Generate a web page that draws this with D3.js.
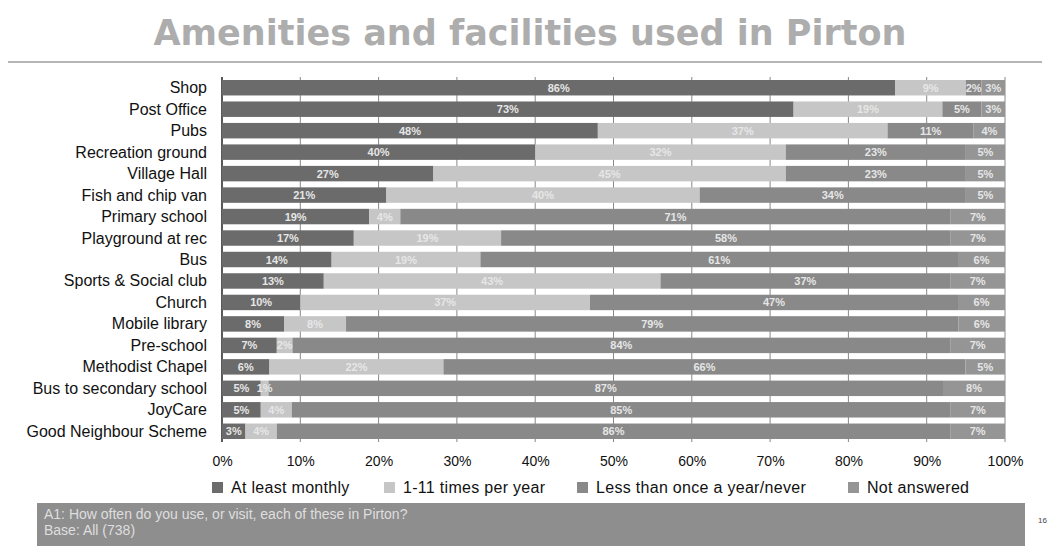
<!DOCTYPE html>
<html><head><meta charset="utf-8">
<script src="https://cdn.jsdelivr.net/npm/d3@7/dist/d3.min.js"></script>
<style>body{margin:0;background:#fff;}svg{display:block;}</style>
</head><body>
<svg id="chart" width="1055" height="550"></svg>
<script>
const categories = ["Shop","Post Office","Pubs","Recreation ground","Village Hall","Fish and chip van","Primary school","Playground at rec","Bus","Sports & Social club","Church","Mobile library","Pre-school","Methodist Chapel","Bus to secondary school","JoyCare","Good Neighbour Scheme"];
const seriesNames = ["At least monthly","1-11 times per year","Less than once a year/never","Not answered"];
const atLeastMonthly = [86,73,48,40,27,21,19,17,14,13,10,8,7,6,5,5,3];
const times1to11     = [9,19,37,32,45,40,4,19,19,43,37,8,2,22,1,4,4];
const lessThanOnce   = [2,5,11,23,23,34,71,58,61,37,47,79,84,66,87,85,86];
const notAnswered    = [3,3,4,5,5,5,7,7,6,7,6,6,7,5,8,7,7];
const xTicks = [0,10,20,30,40,50,60,70,80,90,100];
const colors = ["#6b6b6b","#c6c6c6","#898989","#959595"];

const svg = d3.select("#chart");
const margin = {left:222, right:50, top:77, bottom:108};
const W = 1055, H = 550;
const FONT = "Liberation Sans, Arial, sans-serif";
const x = d3.scaleLinear().domain([0,100]).range([margin.left, W - margin.right]);
const y = d3.scaleBand().domain(categories).range([margin.top, H - margin.bottom]).paddingInner(0.28).paddingOuter(0.14);

// title
svg.append("text").attr("x", 530).attr("y", 45).attr("text-anchor","middle")
  .attr("font-family","DejaVu Sans, Verdana, sans-serif").attr("font-weight","bold")
  .attr("font-size", 35).attr("fill","#adadad").text("Amenities and facilities used in Pirton");
svg.append("line").attr("x1",8).attr("x2",1042).attr("y1",62).attr("y2",62)
  .attr("stroke","#b5b5b5").attr("stroke-width",2);

// gridlines
svg.append("g").selectAll("line").data(xTicks).join("line")
  .attr("x1", d=>x(d)).attr("x2", d=>x(d))
  .attr("y1", margin.top).attr("y2", H - margin.bottom)
  .attr("stroke", d=> d===0 ? "#222" : "#888").attr("stroke-width", d=> d===0 ? 1.5 : 1);

// data
const rows = categories.map((c,i)=>({cat:c, vals:[atLeastMonthly[i],times1to11[i],lessThanOnce[i],notAnswered[i]]}));
const segs = [];
rows.forEach(r=>{
  const total = d3.sum(r.vals);
  let acc = 0;
  r.vals.forEach((v,k)=>{
    const x0 = acc/total*100; acc += v; const x1 = acc/total*100;
    segs.push({cat:r.cat, k, v, x0, x1});
  });
});

svg.append("g").selectAll("rect").data(segs).join("rect")
  .attr("x", d=>x(d.x0)).attr("width", d=>x(d.x1)-x(d.x0))
  .attr("y", d=>y(d.cat)).attr("height", y.bandwidth())
  .attr("fill", d=>colors[d.k]);

svg.append("g").selectAll("text").data(segs).join("text")
  .attr("x", d=>(x(d.x0)+x(d.x1))/2).attr("y", d=>y(d.cat)+y.bandwidth()/2+4)
  .attr("text-anchor","middle").attr("font-family",FONT)
  .attr("font-size", 11).attr("font-weight","bold").attr("fill","#e6e6e6")
  .text(d=>d.v+"%");

// category labels
svg.append("g").selectAll("text").data(categories).join("text")
  .attr("x", 207).attr("y", d=>y(d)+y.bandwidth()/2+5.5)
  .attr("text-anchor","end").attr("font-family",FONT)
  .attr("font-size", 16).attr("fill","#111").text(d=>d);

// x axis
const xAxis = d3.axisBottom(x).tickValues(xTicks).tickFormat(d=>d+"%").tickSize(0).tickPadding(14);
const gx = svg.append("g").attr("transform",`translate(0,${H - margin.bottom})`).call(xAxis);
gx.select(".domain").remove();
gx.selectAll("text").attr("font-family",FONT).attr("font-size",14).attr("fill","#111");

// legend
const legX = [212, 384, 577, 848];
const leg = svg.append("g").selectAll("g").data(seriesNames).join("g")
  .attr("transform",(d,i)=>`translate(${legX[i]},482)`);
leg.append("rect").attr("width",11).attr("height",11).attr("fill",(d,i)=>colors[i]);
leg.append("text").attr("x",19).attr("y",11).attr("font-family",FONT)
  .attr("font-size",16).attr("letter-spacing",0.3).attr("fill","#111").text(d=>d);

// footer
svg.append("rect").attr("x",37).attr("y",503).attr("width",988).attr("height",43).attr("fill","#8e8e8e");
svg.append("text").attr("x",44).attr("y",519).attr("font-family",FONT)
  .attr("font-size",14).attr("fill","#dedede").text("A1: How often do you use, or visit, each of these in Pirton?");
svg.append("text").attr("x",44).attr("y",535).attr("font-family",FONT)
  .attr("font-size",14).attr("fill","#dedede").text("Base: All (738)");
svg.append("text").attr("x",1038).attr("y",523).attr("font-family",FONT)
  .attr("font-size",8).attr("fill","#444").text("16");
</script>
</body></html>
